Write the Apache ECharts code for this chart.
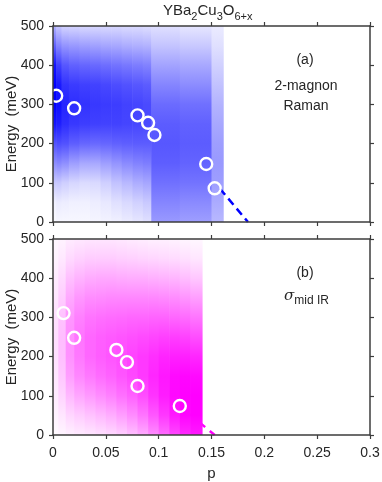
<!DOCTYPE html>
<html>
<head>
<meta charset="utf-8">
<script src="https://cdn.jsdelivr.net/npm/echarts@6/dist/echarts.min.js"></script>
<style>
  html, body { margin: 0; padding: 0; background: #fff; }
  #main { width: 382px; height: 482px; }
</style>
</head>
<body>
<div id="main"></div>
<script>
// energy levels (meV) at which column intensities were read
var energyLevels = [0, 50, 100, 150, 200, 250, 300, 350, 400, 450, 500];

// 2-magnon Raman: doping bins [pStart, pEnd] and intensity 0..1 at energyLevels
var ramanBins = [
  [0, 0.003], [0.003, 0.008], [0.008, 0.015], [0.015, 0.025], [0.025, 0.035],
  [0.035, 0.045], [0.045, 0.055], [0.055, 0.065], [0.065, 0.075], [0.075, 0.085],
  [0.085, 0.093], [0.093, 0.12], [0.12, 0.15], [0.15, 0.161]
];
var ramanIntensity = [
  [0.02, 0.06, 0.22, 0.45, 0.68, 0.92, 1.0, 1.0, 0.92, 0.62, 0.3],
  [0.03, 0.08, 0.22, 0.47, 0.7, 0.88, 0.94, 0.9, 0.75, 0.48, 0.22],
  [0.03, 0.07, 0.19, 0.44, 0.68, 0.82, 0.86, 0.8, 0.66, 0.42, 0.17],
  [0.03, 0.06, 0.16, 0.38, 0.63, 0.78, 0.82, 0.77, 0.62, 0.4, 0.16],
  [0.03, 0.06, 0.14, 0.34, 0.6, 0.76, 0.8, 0.75, 0.6, 0.38, 0.15],
  [0.04, 0.07, 0.15, 0.34, 0.59, 0.75, 0.78, 0.74, 0.59, 0.37, 0.15],
  [0.05, 0.09, 0.19, 0.38, 0.6, 0.74, 0.77, 0.72, 0.57, 0.35, 0.15],
  [0.06, 0.12, 0.24, 0.42, 0.62, 0.74, 0.76, 0.7, 0.55, 0.34, 0.15],
  [0.08, 0.15, 0.28, 0.46, 0.63, 0.73, 0.74, 0.68, 0.53, 0.32, 0.14],
  [0.1, 0.18, 0.32, 0.49, 0.64, 0.72, 0.73, 0.66, 0.51, 0.31, 0.14],
  [0.12, 0.21, 0.35, 0.51, 0.64, 0.71, 0.71, 0.64, 0.49, 0.3, 0.13],
  [0.4, 0.48, 0.56, 0.63, 0.66, 0.64, 0.58, 0.48, 0.36, 0.23, 0.12],
  [0.38, 0.46, 0.55, 0.61, 0.64, 0.62, 0.56, 0.45, 0.34, 0.21, 0.1],
  [0.28, 0.33, 0.38, 0.4, 0.38, 0.34, 0.3, 0.24, 0.18, 0.12, 0.08]
];

// mid-IR conductivity columns
var irBins = [
  [0, 0.005], [0.005, 0.012], [0.012, 0.02], [0.02, 0.03], [0.03, 0.04],
  [0.04, 0.05], [0.05, 0.06], [0.06, 0.07], [0.07, 0.08], [0.08, 0.09],
  [0.09, 0.1], [0.1, 0.11], [0.11, 0.12], [0.12, 0.13], [0.13, 0.141]
];
var irIntensity = [
  [0.02, 0.05, 0.08, 0.1, 0.12, 0.13, 0.12, 0.1, 0.08, 0.05, 0.03],
  [0.04, 0.1, 0.17, 0.22, 0.25, 0.26, 0.24, 0.2, 0.15, 0.09, 0.05],
  [0.06, 0.16, 0.28, 0.38, 0.43, 0.44, 0.41, 0.34, 0.25, 0.15, 0.08],
  [0.08, 0.2, 0.35, 0.47, 0.53, 0.54, 0.5, 0.41, 0.3, 0.18, 0.09],
  [0.1, 0.24, 0.4, 0.53, 0.6, 0.6, 0.55, 0.45, 0.33, 0.2, 0.1],
  [0.12, 0.28, 0.45, 0.58, 0.64, 0.63, 0.57, 0.46, 0.34, 0.2, 0.1],
  [0.15, 0.32, 0.5, 0.62, 0.67, 0.65, 0.58, 0.47, 0.34, 0.2, 0.1],
  [0.19, 0.38, 0.56, 0.67, 0.7, 0.67, 0.59, 0.47, 0.33, 0.19, 0.09],
  [0.25, 0.45, 0.62, 0.72, 0.74, 0.69, 0.6, 0.47, 0.32, 0.18, 0.08],
  [0.33, 0.54, 0.7, 0.78, 0.78, 0.71, 0.6, 0.47, 0.32, 0.17, 0.07],
  [0.45, 0.66, 0.8, 0.85, 0.82, 0.73, 0.61, 0.47, 0.31, 0.16, 0.06],
  [0.58, 0.78, 0.89, 0.91, 0.86, 0.75, 0.61, 0.46, 0.3, 0.15, 0.06],
  [0.72, 0.9, 0.97, 0.96, 0.88, 0.76, 0.6, 0.45, 0.29, 0.14, 0.05],
  [0.84, 0.98, 1.0, 0.98, 0.88, 0.74, 0.58, 0.42, 0.26, 0.12, 0.04],
  [0.9, 1.0, 1.0, 0.96, 0.85, 0.7, 0.54, 0.38, 0.22, 0.1, 0.03]
];

// peak positions (circles)
var ramanP = [0.003, 0.02, 0.08, 0.09, 0.096, 0.145, 0.153];
var ramanE = [322, 290, 272, 253, 222, 148, 86];
var irP = [0.01, 0.02, 0.06, 0.07, 0.08, 0.12];
var irE = [311, 248, 217, 186, 125, 74];

// dashed extrapolations
var ramanLineP = [0.158, 0.1845];
var ramanLineE = [85, 0];
var irLineP = [0.12, 0.153];
var irLineE = [74, 0];

var chart = echarts.init(document.getElementById('main'));
var FONT = 'Liberation Sans, Arial, sans-serif';
var AX = '#3c3c3c';
var TXT = '#262626';

function blue(v) { var c = Math.round(255 * (1 - v)); return 'rgb(' + c + ',' + c + ',255)'; }
function magenta(v) { var c = Math.round(255 * (1 - v)); return 'rgb(255,' + c + ',255)'; }

function columns(bins, vals) {
  return bins.map(function (b, i) { return [b[0], b[1]].concat(vals[i]); });
}

function makeRender(colorFn) {
  return function (params, api) {
    var a = api.coord([api.value(0), energyLevels[energyLevels.length - 1]]);
    var b = api.coord([api.value(1), energyLevels[0]]);
    var top = a[1], bottom = b[1];
    var stops = [];
    for (var k = energyLevels.length - 1; k >= 0; k--) {
      var y = api.coord([0, energyLevels[k]])[1];
      stops.push({ offset: (y - top) / (bottom - top), color: colorFn(api.value(2 + k)) });
    }
    return {
      type: 'rect',
      shape: { x: a[0], y: top, width: b[0] - a[0] + 0.6, height: bottom - top },
      style: { fill: { type: 'linear', x: 0, y: 0, x2: 0, y2: 1, colorStops: stops } }
    };
  };
}

function pairs(xs, ys) { return xs.map(function (x, i) { return [x, ys[i]]; }); }

function xAx(grid, pos, labels) {
  return {
    type: 'value', gridIndex: grid, position: pos, min: 0, max: 0.3, interval: 0.05, z: 10,
    axisLine: { onZero: false, lineStyle: { color: AX, width: 1.5 } },
    axisTick: { show: true, inside: false, length: 4, lineStyle: { color: AX, width: 1.2 } },
    splitLine: { show: false },
    axisLabel: { show: labels, margin: 11, color: TXT, fontFamily: FONT, fontSize: 14 },
    name: labels ? 'p' : '', nameLocation: 'middle', nameGap: 31, nameMoveOverlap: false,
    nameTextStyle: { color: TXT, fontFamily: FONT, fontSize: 15 }
  };
}
function yAx(grid, pos, labels) {
  return {
    type: 'value', gridIndex: grid, position: pos, min: 0, max: 500, interval: 100, z: 10,
    axisLine: { onZero: false, lineStyle: { color: AX, width: 1.5 } },
    axisTick: { show: true, inside: false, length: 4, lineStyle: { color: AX, width: 1.2 } },
    splitLine: { show: false },
    axisLabel: { show: labels, margin: 9, color: TXT, fontFamily: FONT, fontSize: 14 },
    name: labels ? 'Energy  (meV)' : '', nameLocation: 'middle', nameGap: 41, nameMoveOverlap: false,
    nameTextStyle: { color: TXT, fontFamily: FONT, fontSize: 15, verticalAlign: 'middle' }
  };
}

var circleStyle = { color: 'rgba(0,0,0,0)', borderColor: '#ffffff', borderWidth: 2.4, opacity: 1 };

var option = {
  animation: false,
  backgroundColor: '#ffffff',
  grid: [
    { left: 53, right: 12, top: 26, height: 196, containLabel: false, outerBoundsMode: 'none' },
    { left: 53, right: 12, top: 239, height: 196, containLabel: false, outerBoundsMode: 'none' }
  ],
  xAxis: [xAx(0, 'bottom', false), xAx(0, 'top', false), xAx(1, 'bottom', true), xAx(1, 'top', false)],
  yAxis: [yAx(0, 'left', true), yAx(0, 'right', false), yAx(1, 'left', true), yAx(1, 'right', false)],
  series: [
    {
      type: 'custom', xAxisIndex: 0, yAxisIndex: 0, z: 2, silent: true,
      renderItem: makeRender(blue), encode: { x: [0, 1], y: 2 },
      data: columns(ramanBins, ramanIntensity)
    },
    {
      type: 'line', xAxisIndex: 0, yAxisIndex: 0, z: 3, symbol: 'none',
      lineStyle: { color: '#0000ff', width: 2.5, type: [8, 5] },
      data: pairs(ramanLineP, ramanLineE)
    },
    {
      type: 'scatter', xAxisIndex: 0, yAxisIndex: 0, z: 4, symbol: 'circle', symbolSize: 12,
      itemStyle: circleStyle, data: pairs(ramanP, ramanE)
    },
    {
      type: 'line', xAxisIndex: 2, yAxisIndex: 2, z: 1, symbol: 'none',
      lineStyle: { color: '#ff00ff', width: 2.5, type: [7, 6] },
      data: pairs(irLineP, irLineE)
    },
    {
      type: 'custom', xAxisIndex: 2, yAxisIndex: 2, z: 2, silent: true,
      renderItem: makeRender(magenta), encode: { x: [0, 1], y: 2 },
      data: columns(irBins, irIntensity)
    },
    {
      type: 'scatter', xAxisIndex: 2, yAxisIndex: 2, z: 4, symbol: 'circle', symbolSize: 12,
      itemStyle: circleStyle, data: pairs(irP, irE)
    }
  ],
  graphic: [
    {
      type: 'text', left: 163, top: 3, z: 20,
      style: {
        text: '{m|YBa}{s|2}{m|Cu}{s|3}{m|O}{s|6+x}',
        fill: TXT, font: '15px ' + FONT,
        rich: {
          m: { fontSize: 15, fontFamily: FONT, lineHeight: 16, verticalAlign: 'top', fill: TXT },
          s: { fontSize: 11, fontFamily: FONT, lineHeight: 12, verticalAlign: 'top', padding: [8, 0, 0, 0], fill: TXT }
        }
      }
    },
    { type: 'text', x: 305, y: 60, z: 20, style: { text: '(a)', fill: TXT, font: '14px ' + FONT, align: 'center', verticalAlign: 'middle' } },
    { type: 'text', x: 306, y: 86, z: 20, style: { text: '2-magnon', fill: TXT, font: '14px ' + FONT, align: 'center', verticalAlign: 'middle' } },
    { type: 'text', x: 306, y: 106, z: 20, style: { text: 'Raman', fill: TXT, font: '14px ' + FONT, align: 'center', verticalAlign: 'middle' } },
    { type: 'text', x: 305, y: 273, z: 20, style: { text: '(b)', fill: TXT, font: '14px ' + FONT, align: 'center', verticalAlign: 'middle' } },
    {
      type: 'text', left: 284, top: 289, z: 20,
      style: {
        text: '{g|σ}{s|mid IR}',
        fill: TXT, font: '14px ' + FONT,
        rich: {
          g: { fontSize: 15, fontFamily: 'DejaVu Serif, serif', fontStyle: 'italic', lineHeight: 15, verticalAlign: 'top', fill: TXT },
          s: { fontSize: 12, fontFamily: FONT, lineHeight: 13, verticalAlign: 'top', padding: [6, 0, 0, 0], fill: TXT }
        }
      }
    }
  ]
};

chart.setOption(option);
</script>
</body>
</html>
